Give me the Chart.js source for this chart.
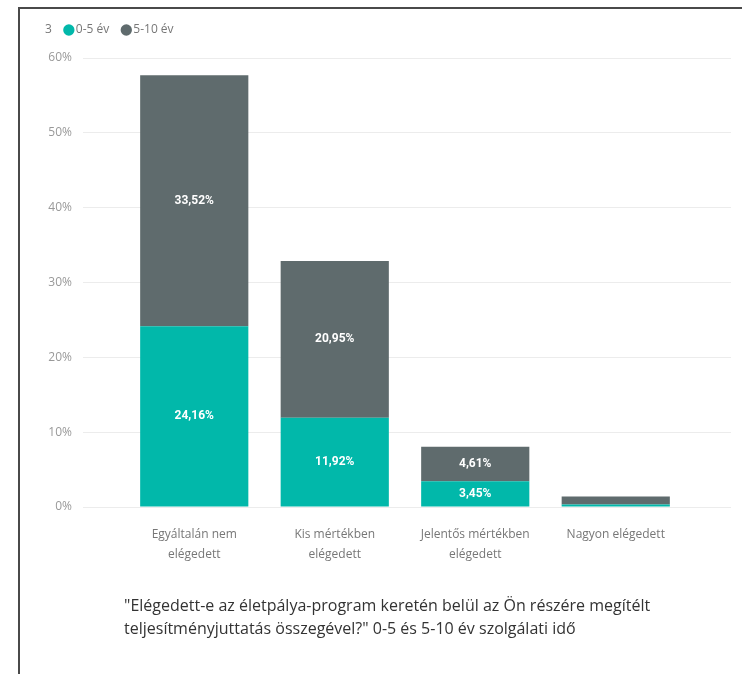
<!DOCTYPE html>
<html>
<head>
<meta charset="utf-8">
<script src="https://cdn.jsdelivr.net/npm/chart.js@4/dist/chart.umd.min.js"></script>
<style>
  body { margin: 0; background: #fff; }
  #wrap { position: relative; width: 742px; height: 674px; overflow: hidden; }
  #frame { position: absolute; left: 18px; top: 7px; width: 800px; height: 700px;
           border-left: 2px solid #4a4a4a; border-top: 2px solid #4a4a4a; }
  canvas { position: absolute; left: 0; top: 0; }
</style>
</head>
<body>
<div id="wrap">
  <div id="frame"></div>
  <canvas id="myChart" width="742" height="674"></canvas>
</div>
<script>
// chart data
const categories = [
  ['Egyáltalán nem', 'elégedett'],
  ['Kis mértékben', 'elégedett'],
  ['Jelentős mértékben', 'elégedett'],
  'Nagyon elégedett'
];
const legendPrefix = '3';
const seriesNames = ['0-5 év', '5-10 év'];
const values0to5 = [24.16, 11.92, 3.45, 0.35];
const values5to10 = [33.52, 20.95, 4.61, 1.04];
const yTicks = [0, 10, 20, 30, 40, 50, 60];
const titleLines = [
  '"Elégedett-e az életpálya-program keretén belül az Ön részére megítélt',
  'teljesítményjuttatás összegével?" 0-5 és 5-10 év szolgálati idő'
];

const gridColor = '#ececec';

// white value labels in the middle of each segment
const segmentLabels = {
  id: 'segmentLabels',
  afterDatasetsDraw(chart) {
    const ctx = chart.ctx;
    ctx.save();
    ctx.fillStyle = '#ffffff';
    ctx.font = 'bold 12px Roboto, sans-serif';
    ctx.textAlign = 'center';
    ctx.textBaseline = 'middle';
    chart.data.datasets.forEach((ds, i) => {
      chart.getDatasetMeta(i).data.forEach((bar, j) => {
        const v = ds.data[j];
        if (v < 2) return;
        const p = bar.getProps(['x', 'y', 'base'], true);
        ctx.fillText(v.toFixed(2).replace('.', ',') + '%', p.x, (p.y + p.base) / 2);
      });
    });
    ctx.restore();
  }
};

// extra room between legend and plot
const legendGap = {
  id: 'legendGap',
  beforeInit(chart) {
    const fit = chart.legend.fit;
    chart.legend.fit = function() {
      fit.bind(chart.legend)();
      this.height += 12;
    };
  }
};

const config = {
  type: 'bar',
  data: {
    labels: categories,
    datasets: [
      { label: seriesNames[0], data: values0to5, backgroundColor: '#01B8AA', borderWidth: 0 },
      { label: seriesNames[1], data: values5to10, backgroundColor: '#5F6B6D', borderWidth: 0 }
    ]
  },
  options: {
    responsive: false,
    animation: false,
    layout: { padding: { top: 8, left: 21, right: 0, bottom: 0 } },
    datasets: { bar: { categoryPercentage: 1, barPercentage: 0.77 } },
    scales: {
      x: {
        stacked: true,
        grid: { display: false, drawTicks: false },
        border: { display: false },
        ticks: {
          color: '#777',
          padding: 18,
          maxRotation: 0,
          font: { family: 'Open Sans', size: 12, lineHeight: '20px' }
        },
        afterFit(scale) { scale.height = 60; }
      },
      y: {
        stacked: true,
        min: 0,
        max: 60,
        border: { display: false },
        grid: { color: gridColor, tickLength: 41 },
        ticks: {
          stepSize: 10,
          padding: 11,
          color: '#999',
          font: { family: 'Open Sans', size: 12 },
          callback: v => yTicks.includes(v) ? v + '%' : ''
        },
        afterFit(scale) { scale.width = 103; }
      },
      // only here so the gridlines run on past the last bar
      yRight: {
        position: 'right',
        min: 0,
        max: 60,
        border: { display: false },
        grid: { color: gridColor, tickLength: 45, drawTicks: true, drawOnChartArea: false },
        ticks: { display: false, stepSize: 10 },
        afterFit(scale) { scale.width = 56; }
      }
    },
    plugins: {
      legend: {
        position: 'top',
        align: 'start',
        labels: {
          usePointStyle: true,
          pointStyle: 'circle',
          boxWidth: 2,
          boxHeight: 8,
          padding: 16,
          color: '#777',
          font: { family: 'Open Sans', size: 12 },
          // the "3" in front of the series keys, with no marker
          generateLabels(chart) {
            const items = Chart.defaults.plugins.legend.labels.generateLabels(chart);
            items.unshift({
              text: legendPrefix,
              fillStyle: 'rgba(0,0,0,0)',
              strokeStyle: 'rgba(0,0,0,0)',
              lineWidth: 0,
              pointStyle: 'circle',
              hidden: false,
              fontColor: '#777'
            });
            return items;
          }
        }
      },
      title: {
        display: true,
        position: 'bottom',
        align: 'start',
        fullSize: false,
        text: titleLines,
        color: '#333',
        padding: { top: 28, bottom: 33 },
        font: { family: 'Open Sans', size: 16, weight: 'normal', lineHeight: '23px' }
      },
      tooltip: { enabled: false }
    }
  },
  plugins: [segmentLabels, legendGap]
};

const myChart = new Chart(document.getElementById('myChart'), config);
</script>
</body>
</html>
